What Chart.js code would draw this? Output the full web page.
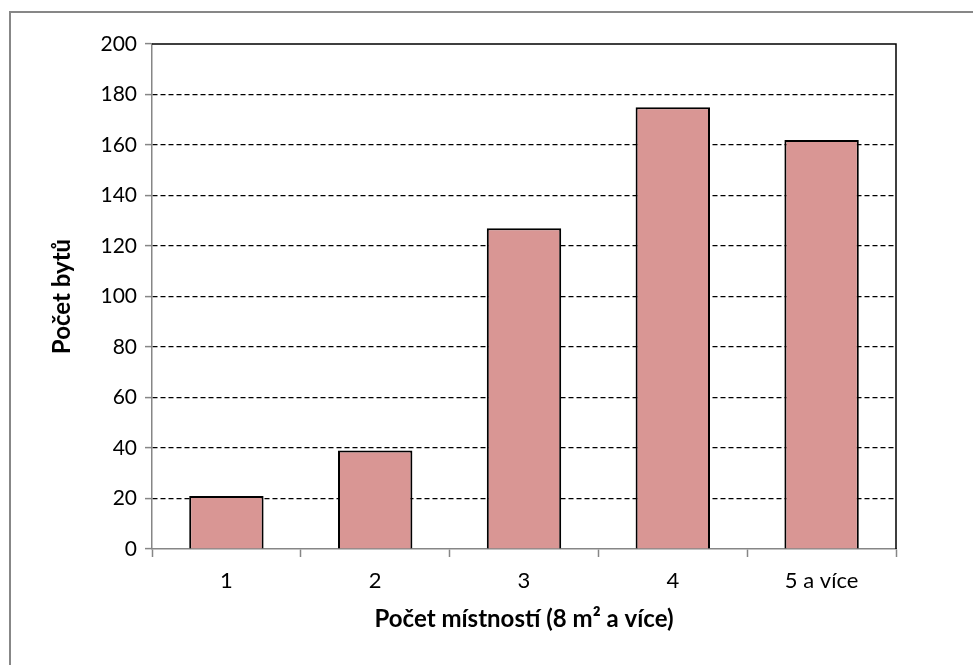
<!DOCTYPE html>
<html>
<head>
<meta charset="utf-8">
<script src="https://cdn.jsdelivr.net/npm/chart.js@4.4.0/dist/chart.umd.min.js"></script>
<style>
  html, body { margin: 0; padding: 0; background: #fff; }
  #wrap { width: 973px; height: 665px; }
</style>
</head>
<body>
<div id="wrap"><canvas id="c" width="973" height="665"></canvas></div>
<script>
// data
const categories = ["1", "2", "3", "4", "5 a více"];
const bytyCounts = [21, 39, 127, 175, 162];
const yTicks = [0, 20, 40, 60, 80, 100, 120, 140, 160, 180, 200];

const FONT = "Lato, 'Open Sans', sans-serif";

// outer frame + solid top/right plot border
const framePlugin = {
  id: "frame",
  beforeDraw(chart) {
    const ctx = chart.ctx;
    ctx.save();
    ctx.fillStyle = "#fff";
    ctx.fillRect(0, 0, chart.width, chart.height);
    ctx.strokeStyle = "#878787";
    ctx.lineWidth = 2;
    ctx.beginPath();
    ctx.moveTo(10, chart.height + 5);
    ctx.lineTo(10, 12);
    ctx.lineTo(chart.width + 5, 12);
    ctx.stroke();
    ctx.restore();
  },
  afterDatasetsDraw(chart) {
    const ctx = chart.ctx;
    const a = chart.chartArea;
    ctx.save();
    ctx.strokeStyle = "#000";
    ctx.lineWidth = 1.5;
    ctx.beginPath();
    ctx.moveTo(a.left, a.top);
    ctx.lineTo(a.right, a.top);
    ctx.lineTo(a.right, a.bottom);
    ctx.stroke();
    ctx.restore();
  }
};

new Chart(document.getElementById("c"), {
  type: "bar",
  data: {
    labels: categories,
    datasets: [{
      label: "Počet bytů",
      data: bytyCounts,
      backgroundColor: "#D99694",
      borderColor: "#000",
      borderWidth: 2,
      categoryPercentage: 1,
      barPercentage: 0.5
    }]
  },
  options: {
    responsive: false,
    animation: false,
    devicePixelRatio: 1,
    layout: { padding: { left: 0, top: 44, right: 77, bottom: 0 } },
    plugins: {
      legend: { display: false },
      tooltip: { enabled: false }
    },
    scales: {
      x: {
        afterFit(scale) { scale.height = 116; },
        grid: {
          offset: true,
          drawOnChartArea: false,
          tickLength: 8,
          tickColor: "#868686",
          tickWidth: 1.5
        },
        border: { color: "#868686", width: 1.5 },
        ticks: {
          color: "#000",
          padding: 11,
          font: { family: FONT, size: 22 }
        },
        title: {
          display: true,
          text: "Počet místností (8 m² a více)",
          color: "#000",
          padding: { top: 0, bottom: 31 },
          font: { family: FONT, size: 24, weight: "bold" }
        }
      },
      y: {
        min: 0,
        max: 200,
        afterFit(scale) { scale.width = 152; },
        afterBuildTicks(scale) { scale.ticks = yTicks.map(v => ({ value: v })); },
        grid: {
          color: (c) => (c.tick && (c.tick.value === 0 || c.tick.value === 200)) ? "rgba(0,0,0,0)" : "#000",
          lineWidth: 1.2,
          tickLength: 7,
          tickColor: "#868686",
          tickWidth: 1.5
        },
        border: { color: "#868686", width: 1.5, dash: [5, 3] },
        ticks: {
          color: "#000",
          padding: 8,
          font: { family: FONT, size: 21 }
        },
        title: {
          display: true,
          text: "Počet bytů",
          color: "#000",
          padding: { top: 48, bottom: 0 },
          font: { family: FONT, size: 24, weight: "bold" }
        }
      }
    }
  },
  plugins: [framePlugin]
});
</script>
</body>
</html>
